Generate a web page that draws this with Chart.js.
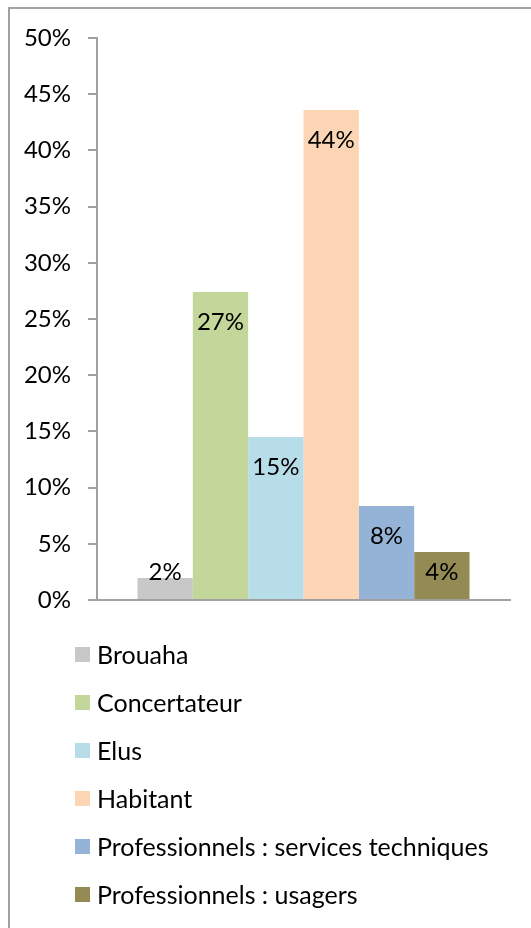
<!DOCTYPE html>
<html>
<head>
<meta charset="utf-8">
<script src="https://cdn.jsdelivr.net/npm/chart.js@4.4.1/dist/chart.umd.min.js"></script>
<style>
  html, body { margin: 0; padding: 0; background: #fff; overflow: hidden; }
  #wrap { position: relative; width: 531px; height: 928px; overflow: hidden; }
  #frame { position: absolute; left: 8px; top: 7px; width: 700px; height: 1100px; border: 2px solid #a0a0a0; box-sizing: border-box; }
  canvas { position: absolute; left: 0; top: 0; }
  #legend { position: absolute; left: 75px; top: 630px; font-family: Lato, "Noto Sans", sans-serif; font-size: 25px; color: #000; }
  .item { height: 48px; display: flex; align-items: center; white-space: nowrap; }
  .sw { width: 15px; height: 15px; margin-right: 7px; flex: none; }
</style>
</head>
<body>
<div id="wrap">
  <div id="frame"></div>
  <canvas id="c" width="531" height="928"></canvas>
  <div id="legend"></div>
</div>
<script>
const categories = [''];
const seriesNames = ['Brouaha', 'Concertateur', 'Elus', 'Habitant', 'Professionnels : services techniques', 'Professionnels : usagers'];
const seriesValues = [1.96, 27.4, 14.5, 43.6, 8.36, 4.27];
const seriesColors = ['#c8c8c8', '#c4d79b', '#b7dde8', '#fcd5b4', '#95b3d7', '#948a54'];
const yTickValues = [0, 5, 10, 15, 20, 25, 30, 35, 40, 45, 50];

const FONT = 'Lato, "Noto Sans", sans-serif';
const FONT_SIZE = 24;

const datasets = seriesNames.map((name, i) => ({
  label: name,
  data: [seriesValues[i]],
  backgroundColor: seriesColors[i],
  borderWidth: 0,
  categoryPercentage: 0.804,
  barPercentage: 1.0
}));

const labelPlugin = {
  id: 'barLabels',
  afterDatasetsDraw(chart) {
    const ctx = chart.ctx;
    ctx.save();
    ctx.font = FONT_SIZE + 'px ' + FONT;
    ctx.fillStyle = '#000';
    ctx.textAlign = 'center';
    ctx.textBaseline = 'alphabetic';
    chart.data.datasets.forEach((ds, di) => {
      const meta = chart.getDatasetMeta(di);
      meta.data.forEach((bar, j) => {
        const v = ds.data[j];
        const y = Math.min(bar.y + 38, bar.base - 19);
        ctx.fillText(Math.round(v) + '%', bar.x, y);
      });
    });
    ctx.restore();
  }
};

const chart = new Chart(document.getElementById('c'), {
  type: 'bar',
  data: { labels: categories, datasets },
  options: {
    responsive: false,
    animation: false,
    devicePixelRatio: 1,
    layout: { padding: { top: 38, right: 21, bottom: 328, left: 0 } },
    plugins: { legend: { display: false }, tooltip: { enabled: false } },
    scales: {
      x: {
        grid: { display: false, drawTicks: false },
        border: { display: true, color: '#a0a0a0', width: 2 },
        ticks: { display: false },
        afterFit(scale) { scale.height = 0; }
      },
      y: {
        min: 0,
        max: 50,
        afterBuildTicks(scale) { scale.ticks = yTickValues.map(v => ({ value: v })); },
        grid: { drawOnChartArea: false, drawTicks: true, tickLength: 9, color: '#a0a0a0', lineWidth: 2 },
        border: { display: true, color: '#a0a0a0', width: 2 },
        ticks: {
          padding: 17,
          color: '#000',
          font: { family: FONT, size: FONT_SIZE },
          callback: v => v + '%'
        },
        afterFit(scale) { scale.width = 97; }
      }
    }
  },
  plugins: [labelPlugin]
});

const legend = document.getElementById('legend');
seriesNames.forEach((name, i) => {
  const row = document.createElement('div');
  row.className = 'item';
  const sw = document.createElement('span');
  sw.className = 'sw';
  sw.style.background = seriesColors[i];
  const t = document.createElement('span');
  t.textContent = name;
  row.appendChild(sw);
  row.appendChild(t);
  legend.appendChild(row);
});
</script>
</body>
</html>
